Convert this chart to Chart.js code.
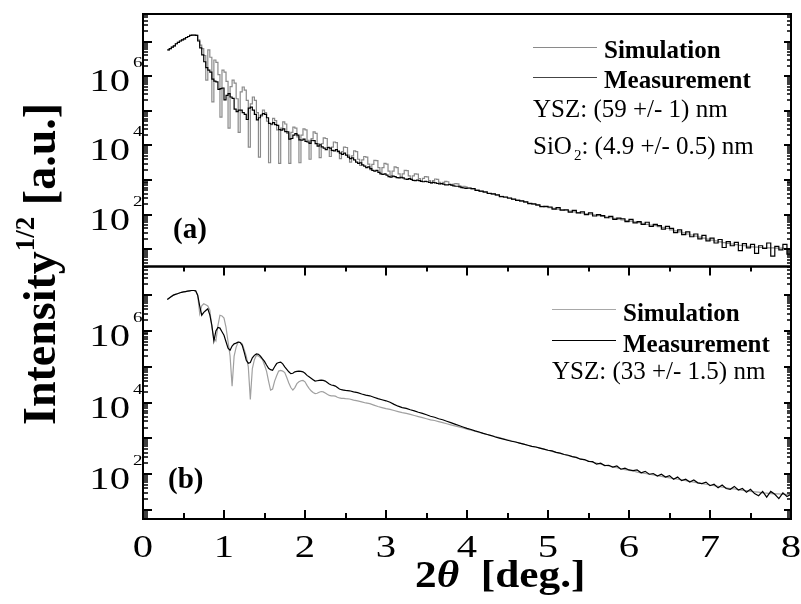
<!DOCTYPE html>
<html>
<head>
<meta charset="utf-8">
<script src="https://cdn.jsdelivr.net/npm/chart.js@4.4.1/dist/chart.umd.min.js"></script>
<style>
  body { margin: 0; background: #fff; }
  #wrap { position: relative; width: 801px; height: 604px; font-family: 'Liberation Serif', 'Times New Roman', serif; color: #000; }
  #wrap canvas { position: absolute; left: 0; top: 0; }
  .t { position: absolute; white-space: nowrap; line-height: 1; }
  .lg { font-weight: bold; font-size: 25px; }
  .note { font-size: 25px; }
  .swatch { position: absolute; height: 0; width: 64px; border-top: 1.3px solid; }
</style>
</head>
<body>
<div id="wrap">
  <canvas id="xrr" width="801" height="604"></canvas>

  <!-- panel (a) legend -->
  <div class="swatch" style="left:533px; top:47px; border-color:#8a8a8a"></div>
  <div class="swatch" style="left:533px; top:77px; border-color:#444"></div>
  <div class="t lg" style="left:604px; top:37px">Simulation</div>
  <div class="t lg" style="left:604px; top:67px">Measurement</div>
  <div class="t note" style="left:533px; top:96px">YSZ: (59 +/- 1) nm</div>
  <div class="t note" style="left:533px; top:133px">SiO<span style="font-size:15px; position:relative; top:6px; margin-left:2px">2</span>: (4.9 +/- 0.5) nm</div>
  <div class="t" style="left:173px; top:214px; font-size:29px; font-weight:bold">(a)</div>

  <!-- panel (b) legend -->
  <div class="swatch" style="left:552px; top:309px; border-color:#a8a8a8"></div>
  <div class="swatch" style="left:552px; top:340px; border-color:#000"></div>
  <div class="t lg" style="left:623px; top:300px">Simulation</div>
  <div class="t lg" style="left:623px; top:331px">Measurement</div>
  <div class="t note" style="left:552px; top:358px">YSZ: (33 +/- 1.5) nm</div>
  <div class="t" style="left:168px; top:464px; font-size:29px; font-weight:bold">(b)</div>

  <!-- axis titles -->
  <div class="t" style="left:415px; top:556px; font-size:37px; font-weight:bold; transform-origin:0 0; transform:scaleX(1.17)">2<i>θ</i>&nbsp; [deg.]</div>
  <div class="t" style="left:17px; top:425px; font-size:46px; line-height:46px; font-weight:bold; transform-origin:0 0; transform:rotate(-90deg)">Intensity<span style="font-size:27px; position:relative; top:-21px">1/2</span> [a.u.]</div>
</div>

<script>
// log10 of sqrt(intensity); segment 1 starts at 2θ = 0.30 with step 0.025,
// segment 2 is sampled every 0.05 deg.

// (a) YSZ 59 nm on SiO2 -- 2θ = 0.300 ... 3.975
const measA_1 = [
  6.76, 6.80, 6.84, 6.88, 6.94, 6.98, 7.02, 7.05, 7.08, 7.12,
  7.15, 7.18, 7.19, 7.19, 7.18, 7.02, 6.82, 6.62, 6.42, 6.25,
  6.18, 6.12, 5.92, 5.86, 5.84, 5.62, 5.64, 5.66, 5.32, 5.45,
  5.50, 5.40, 5.36, 5.05, 4.98, 5.02, 5.02, 4.95, 4.90, 4.75,
  5.08, 5.11, 5.02, 4.90, 4.74, 4.80, 4.88, 4.92, 4.90, 4.80,
  4.64, 4.62, 4.66, 4.60, 4.58, 4.46, 4.44, 4.48, 4.40, 4.39,
  4.18, 4.20, 4.30, 4.34, 4.30, 4.16, 4.15, 4.18, 4.12, 4.10,
  4.06, 4.15, 4.14, 4.05, 3.98, 4.02, 3.96, 3.92, 3.88, 3.94,
  3.92, 3.86, 3.84, 3.88, 3.82, 3.78, 3.74, 3.78, 3.72, 3.66,
  3.62, 3.64, 3.58, 3.52, 3.48, 3.50, 3.44, 3.40, 3.36, 3.38,
  3.33, 3.28, 3.26, 3.28, 3.22, 3.18, 3.16, 3.18, 3.14, 3.10,
  3.08, 3.11, 3.10, 3.07, 3.06, 3.08, 3.06, 3.03, 3.02, 3.04,
  3.02, 2.99, 2.98, 3.00, 2.98, 2.96, 2.95, 2.96, 2.95, 2.93,
  2.92, 2.93, 2.92, 2.90, 2.89, 2.90, 2.88, 2.86, 2.86, 2.87,
  2.85, 2.83, 2.82, 2.82, 2.80, 2.78, 2.77, 2.76
];
const simA_1 = [
  6.76, 6.80, 6.84, 6.88, 6.94, 6.98, 7.02, 7.05, 7.08, 7.12,
  7.15, 7.18, 7.19, 7.19, 7.18, 7.05, 6.90, 6.80, 6.60, 5.89,
  6.76, 6.55, 5.26, 6.47, 6.40, 6.05, 4.82, 6.18, 6.12, 5.85,
  4.50, 5.70, 5.89, 5.80, 5.35, 4.38, 5.55, 5.69, 5.60, 5.30,
  3.95, 5.20, 5.40, 5.30, 4.95, 3.66, 4.85, 5.02, 4.95, 4.70,
  3.50, 4.60, 4.78, 4.72, 4.45, 3.48, 4.50, 4.68, 4.62, 4.35,
  3.48, 4.38, 4.53, 4.50, 4.25, 3.50, 4.30, 4.48, 4.45, 4.15,
  3.60, 4.20, 4.39, 4.35, 4.05, 3.65, 4.05, 4.22, 4.20, 3.95,
  3.68, 3.95, 4.10, 4.08, 3.85, 3.62, 3.82, 3.95, 3.94, 3.72,
  3.52, 3.70, 3.84, 3.82, 3.60, 3.42, 3.58, 3.68, 3.66, 3.46,
  3.30, 3.45, 3.57, 3.56, 3.36, 3.20, 3.36, 3.48, 3.46, 3.26,
  3.12, 3.26, 3.38, 3.36, 3.18, 3.07, 3.18, 3.28, 3.27, 3.12,
  3.03, 3.12, 3.18, 3.17, 3.04, 2.97, 3.05, 3.10, 3.09, 2.98,
  2.92, 2.98, 3.03, 3.02, 2.93, 2.89, 2.93, 2.96, 2.95, 2.88,
  2.85, 2.88, 2.90, 2.89, 2.83, 2.80, 2.82, 2.80
];
// (a) 2θ = 4.00 ... 8.00
const measA_2 = [
  2.77, 2.75, 2.70, 2.68, 2.66, 2.61, 2.60, 2.57, 2.52, 2.51,
  2.48, 2.45, 2.41, 2.40, 2.37, 2.32, 2.31, 2.28, 2.23, 2.24,
  2.22, 2.16, 2.20, 2.13, 2.14, 2.07, 2.12, 2.05, 2.08, 2.00,
  2.05, 1.96, 2.00, 1.97, 1.91, 1.95, 1.86, 1.90, 1.88, 1.80,
  1.86, 1.76, 1.80, 1.72, 1.78, 1.66, 1.72, 1.68, 1.58, 1.66,
  1.60, 1.48, 1.56, 1.42, 1.50, 1.36, 1.44, 1.30, 1.40, 1.24,
  1.32, 1.18, 1.28, 1.05, 1.22, 1.10, 1.20, 0.96, 1.16, 1.04,
  1.14, 0.88, 1.10, 1.02, 1.18, 0.80, 1.08, 0.98, 1.14, 0.86,
  1.08
];
const simA_2 = [
  2.76, 2.74, 2.71, 2.67, 2.64, 2.62, 2.59, 2.56, 2.53, 2.50,
  2.47, 2.44, 2.42, 2.39, 2.36, 2.33, 2.30, 2.27, 2.24, 2.22,
  2.20, 2.18, 2.16, 2.14, 2.12, 2.10, 2.08, 2.06, 2.04, 2.02,
  2.01, 1.99, 1.97, 1.95, 1.93, 1.91, 1.89, 1.87, 1.85, 1.83,
  1.81, 1.79, 1.77, 1.75, 1.72, 1.70, 1.68, 1.65, 1.63, 1.60,
  1.56, 1.53, 1.50, 1.47, 1.44, 1.41, 1.38, 1.35, 1.32, 1.29,
  1.26, 1.24, 1.21, 1.19, 1.17, 1.15, 1.13, 1.11, 1.10, 1.08,
  1.07, 1.06, 1.05, 1.05, 1.04, 1.04, 1.03, 1.03, 1.02, 1.02,
  1.02
];

// (b) YSZ 33 nm -- 2θ = 0.300 ... 2.475
const measB_1 = [
  6.88, 6.92, 6.96, 7.00, 7.02, 7.04, 7.06, 7.08, 7.09, 7.10,
  7.11, 7.12, 7.13, 7.13, 7.12, 7.00, 6.70, 6.44, 6.52, 6.57,
  6.62, 6.45, 6.16, 5.72, 6.00, 6.10, 6.08, 5.98, 5.88, 5.70,
  5.52, 5.46, 5.58, 5.64, 5.66, 5.69, 5.68, 5.60, 5.40, 5.18,
  5.10, 5.12, 5.25, 5.32, 5.36, 5.35, 5.30, 5.22, 5.15, 5.05,
  4.96, 4.92, 4.90, 5.00, 5.09, 5.12, 5.13, 5.08, 5.00, 4.93,
  4.86, 4.81, 4.82, 4.86, 4.87, 4.88, 4.87, 4.86, 4.82, 4.76,
  4.72, 4.68, 4.64, 4.60, 4.61, 4.62, 4.63, 4.62, 4.60, 4.56,
  4.52, 4.49, 4.48, 4.46, 4.42, 4.38, 4.36, 4.35
];
const simB_1 = [
  6.88, 6.92, 6.96, 7.00, 7.02, 7.04, 7.06, 7.08, 7.09, 7.10,
  7.11, 7.12, 7.13, 7.13, 7.12, 7.00, 6.48, 6.70, 6.76, 6.73,
  6.70, 6.58, 6.10, 5.80, 5.72, 6.15, 6.44, 6.42, 6.36, 6.10,
  5.70, 5.30, 4.46, 5.30, 5.55, 5.69, 5.68, 5.64, 5.48, 5.30,
  5.00, 4.09, 4.95, 5.20, 5.32, 5.30, 5.26, 5.20, 5.05, 4.88,
  4.60, 4.35, 4.38, 4.60, 4.75, 4.88, 4.90, 4.88, 4.84, 4.70,
  4.55, 4.42, 4.35, 4.42, 4.53, 4.58, 4.61, 4.62, 4.58, 4.48,
  4.40, 4.33, 4.28, 4.25, 4.26, 4.29, 4.31, 4.30, 4.27, 4.23,
  4.20, 4.19, 4.19, 4.18, 4.15, 4.13, 4.12, 4.12
];
// (b) 2θ = 2.50 ... 8.00
const measB_2 = [
  4.34, 4.33, 4.30, 4.28, 4.24, 4.21, 4.19, 4.15, 4.11, 4.08,
  4.05, 4.01, 3.95, 3.90, 3.86, 3.84, 3.80, 3.77, 3.73, 3.70,
  3.66, 3.62, 3.59, 3.55, 3.52, 3.48, 3.44, 3.40, 3.36, 3.32,
  3.28, 3.25, 3.21, 3.18, 3.14, 3.11, 3.08, 3.04, 3.01, 2.98,
  2.95, 2.92, 2.90, 2.87, 2.84, 2.81, 2.78, 2.76, 2.73, 2.70,
  2.67, 2.65, 2.61, 2.59, 2.55, 2.53, 2.49, 2.47, 2.42, 2.41,
  2.36, 2.35, 2.28, 2.31, 2.24, 2.25, 2.20, 2.23, 2.14, 2.17,
  2.12, 2.10, 2.12, 2.04, 2.08, 2.00, 2.02, 1.95, 2.00, 1.92,
  1.96, 1.86, 1.92, 1.82, 1.86, 1.78, 1.84, 1.76, 1.74, 1.78,
  1.68, 1.72, 1.62, 1.70, 1.60, 1.58, 1.66, 1.56, 1.60, 1.50,
  1.58, 1.46, 1.40, 1.52, 1.36, 1.52, 1.44, 1.32, 1.48, 1.38,
  1.44
];
const simB_2 = [
  4.11, 4.10, 4.07, 4.05, 4.02, 3.99, 3.97, 3.93, 3.89, 3.86,
  3.83, 3.81, 3.78, 3.75, 3.72, 3.70, 3.67, 3.64, 3.61, 3.58,
  3.55, 3.52, 3.50, 3.47, 3.44, 3.41, 3.38, 3.35, 3.32, 3.29,
  3.26, 3.23, 3.20, 3.17, 3.14, 3.11, 3.08, 3.05, 3.02, 2.99,
  2.96, 2.93, 2.90, 2.87, 2.84, 2.81, 2.78, 2.76, 2.73, 2.70,
  2.67, 2.64, 2.61, 2.58, 2.55, 2.52, 2.49, 2.46, 2.43, 2.40,
  2.37, 2.34, 2.31, 2.28, 2.25, 2.23, 2.20, 2.18, 2.15, 2.13,
  2.11, 2.09, 2.06, 2.04, 2.02, 2.00, 1.98, 1.96, 1.94, 1.92,
  1.90, 1.88, 1.86, 1.84, 1.82, 1.80, 1.78, 1.76, 1.74, 1.72,
  1.70, 1.68, 1.66, 1.64, 1.62, 1.60, 1.59, 1.57, 1.55, 1.54,
  1.52, 1.51, 1.50, 1.48, 1.47, 1.46, 1.45, 1.45, 1.44, 1.44,
  1.43
];

const xTickLabels = [0, 1, 2, 3, 4, 5, 6, 7, 8];
const yLabelPowers = [2, 4, 6];

// turn a run of log10 values into {x, y} points
function run(start, step, logs) {
  return logs.map((v, i) => ({ x: +(start + i * step).toFixed(3), y: Math.pow(10, v) }));
}

const TEXT_STRETCH = 1.27;
const TICK_FONT = '32px "Liberation Serif", serif';
const EXP_FONT = '15px "Liberation Serif", serif';

// frame, inward ticks and tick labels for both panels
const axesFrame = {
  id: 'axesFrame',
  afterDatasetsDraw(chart) {
    const { ctx, chartArea: area, scales } = chart;
    const xs = scales.x;
    ctx.save();
    ctx.strokeStyle = '#000';
    ctx.fillStyle = '#000';

    [scales.yA, scales.yB].forEach(ys => {
      const e0 = Math.floor(Math.log10(ys.min));
      const e1 = Math.ceil(Math.log10(ys.max));
      for (let e = e0; e <= e1; e++) {
        for (let m = 1; m <= 9; m++) {
          const v = m * Math.pow(10, e);
          if (v < ys.min || v > ys.max) continue;
          const py = Math.round(ys.getPixelForValue(v));
          const major = m === 1;
          ctx.lineWidth = major ? 2 : 1.5;
          ctx.beginPath();
          ctx.moveTo(area.left, py);
          ctx.lineTo(area.left + (major ? 9 : 5), py);
          ctx.moveTo(area.right, py);
          ctx.lineTo(area.right - (major ? 7 : 4), py);
          ctx.stroke();
        }
      }
      ctx.lineWidth = 2;
      ctx.strokeRect(area.left, ys.top, area.right - area.left, ys.bottom - ys.top);

      // 10^n labels
      yLabelPowers.forEach(p => {
        const py = ys.getPixelForValue(Math.pow(10, p));
        ctx.textAlign = 'right';
        ctx.textBaseline = 'alphabetic';
        ctx.save();
        ctx.translate(130, py + 15);
        ctx.scale(TEXT_STRETCH, 1);
        ctx.font = TICK_FONT;
        ctx.fillText('10', 0, 0);
        ctx.restore();
        ctx.save();
        ctx.translate(142.5, py - 9);
        ctx.scale(TEXT_STRETCH, 1);
        ctx.font = EXP_FONT;
        ctx.fillText(String(p), 0, 0);
        ctx.restore();
      });
    });

    // x ticks on the lower frame and the panel divider
    const yb = scales.yB;
    xs.ticks.forEach(t => {
      const px = Math.round(xs.getPixelForValue(t.value));
      const major = Number.isInteger(t.value);
      ctx.lineWidth = 2;
      ctx.beginPath();
      ctx.moveTo(px, yb.bottom);
      ctx.lineTo(px, yb.bottom - (major ? 9 : 6));
      ctx.moveTo(px, yb.top);
      ctx.lineTo(px, yb.top + (major ? 9 : 5));
      ctx.stroke();
    });

    xTickLabels.forEach(v => {
      ctx.save();
      ctx.translate(xs.getPixelForValue(v), 557);
      ctx.scale(TEXT_STRETCH, 1);
      ctx.font = TICK_FONT;
      ctx.textAlign = 'center';
      ctx.textBaseline = 'alphabetic';
      ctx.fillText(String(v), 0, 0);
      ctx.restore();
    });
    ctx.restore();
  }
};

const logAxis = (min, weight) => ({
  type: 'logarithmic',
  position: 'left',
  stack: 'panels',
  stackWeight: 1,
  weight: weight,
  min: min,
  max: Math.pow(10, 7.8),
  ticks: { display: false },
  grid: { display: false },
  border: { display: false },
  afterFit: s => { s.width = 0; }
});

function draw() {
  new Chart(document.getElementById('xrr'), {
    type: 'line',
    data: {
      datasets: [
        {
          label: 'Measurement (a)',
          data: run(0.30, 0.025, measA_1).concat(run(4.0, 0.05, measA_2)),
          yAxisID: 'yA', borderColor: '#000', borderWidth: 1.2, stepped: true
        },
        {
          label: 'Simulation (a)',
          data: run(0.30, 0.025, simA_1).concat(run(4.0, 0.05, simA_2)),
          yAxisID: 'yA', borderColor: '#8a8a8a', borderWidth: 1.2, stepped: true
        },
        {
          label: 'Measurement (b)',
          data: run(0.30, 0.025, measB_1).concat(run(2.5, 0.05, measB_2)),
          yAxisID: 'yB', borderColor: '#000', borderWidth: 1.2
        },
        {
          label: 'Simulation (b)',
          data: run(0.30, 0.025, simB_1).concat(run(2.5, 0.05, simB_2)),
          yAxisID: 'yB', borderColor: '#a0a0a0', borderWidth: 1.2
        }
      ]
    },
    options: {
      responsive: false,
      animation: false,
      devicePixelRatio: 1,
      elements: { point: { radius: 0 }, line: { tension: 0 } },
      layout: { padding: { left: 143, right: 10, top: 14, bottom: 85 } },
      plugins: { legend: { display: false }, tooltip: { enabled: false } },
      scales: {
        x: {
          type: 'linear',
          min: 0,
          max: 8,
          ticks: { display: false, stepSize: 0.5 },
          grid: { display: false },
          border: { display: false },
          afterFit: s => { s.height = 0; }
        },
        yA: logAxis(Math.pow(10, 0.5), 2),
        yB: logAxis(Math.pow(10, 0.75), 1)
      }
    },
    plugins: [axesFrame]
  });
}

document.fonts.load(TICK_FONT).then(draw, draw);
</script>
</body>
</html>
